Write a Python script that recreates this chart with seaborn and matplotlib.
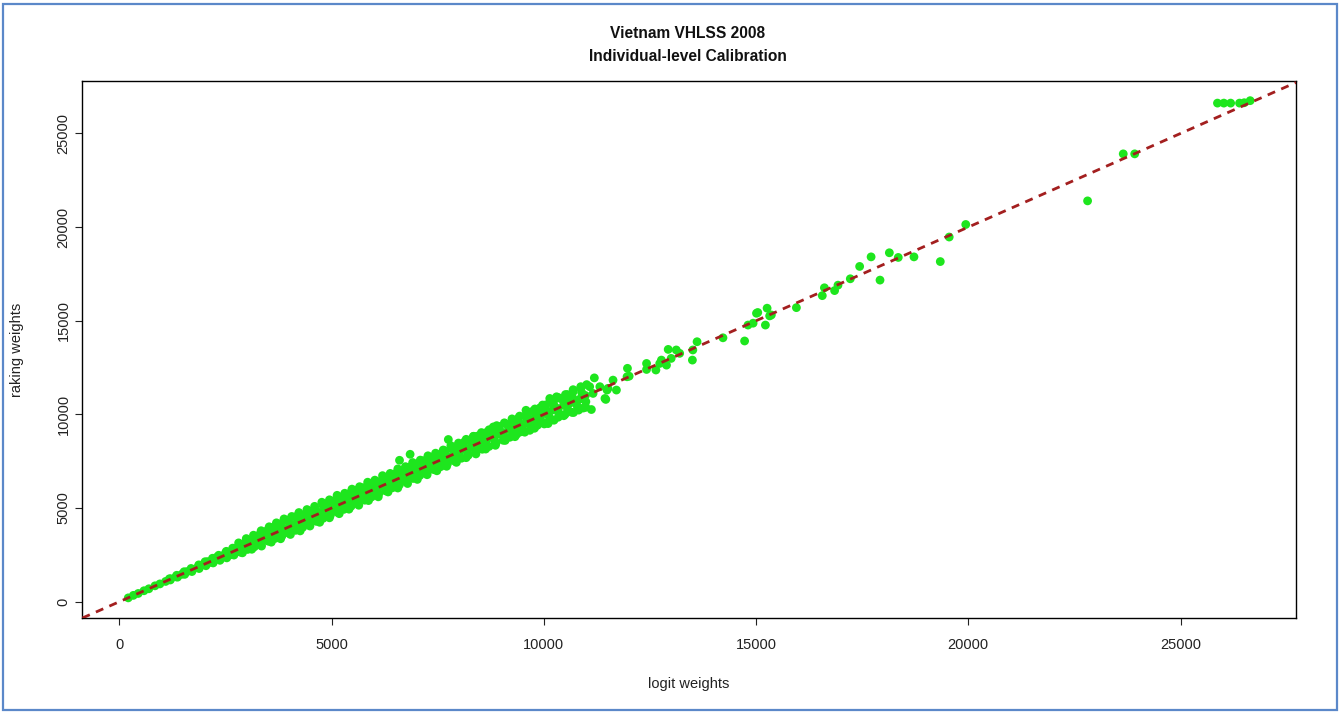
import numpy as np
import pandas as pd
import seaborn as sns
import matplotlib.pyplot as plt
from matplotlib.patches import Rectangle

# ---- data: logit weights (x) vs raking weights (y) ----
# dense core of the cloud, close to the diagonal
core_x = [210, 330, 445, 580, 695, 840, 955, 1090, 1210, 1335, 1470, 1590, 1725, 1850,
          1975, 2110, 2235, 2370, 2490, 2625, 2750, 2880, 3010, 3135, 3270, 3395, 3520,
          3650, 3780, 3910, 4040, 4165, 4300, 4420, 4555, 4680, 4810, 4940, 5070, 5195,
          5320, 5455, 5580, 5710, 5840, 5965, 6100, 6225, 6350, 6480, 6610, 6740, 6870,
          6995, 7120, 7250, 7385, 7510, 7640, 7770, 7895, 8020, 8150, 8280, 8410, 8540,
          8665, 8800, 8920, 9050, 9180, 9310, 9440, 9570, 9700, 9820, 9950, 10080, 10210,
          10340, 10470, 10600, 10720, 10850, 10980]
core_y = [205, 338, 440, 585, 690, 848, 950, 1082, 1222, 1330, 1462, 1605, 1718, 1842,
          1990, 2098, 2250, 2355, 2510, 2612, 2738, 2900, 2990, 3160, 3255, 3380, 3545,
          3630, 3800, 3885, 4070, 4150, 4320, 4395, 4580, 4660, 4835, 4915, 5090, 5170,
          5350, 5430, 5600, 5690, 5865, 5940, 6125, 6200, 6380, 6455, 6640, 6715, 6890,
          6970, 7150, 7220, 7410, 7480, 7665, 7745, 7920, 8000, 8180, 8250, 8440, 8515,
          8690, 8770, 8950, 9030, 9210, 9285, 9470, 9545, 9730, 9800, 9985, 10050, 10240,
          10310, 10500, 10570, 10760, 10820, 11010]

# upper part of the cloud
upper_x = [1180, 1350, 1525, 1690, 1870, 2020, 2195, 2340, 2520, 2670, 2850, 2990, 3170,
           3310, 3490, 3640, 3820, 3960, 4140, 4280, 4460, 4600, 4790, 4930, 5110, 5250,
           5430, 5570, 5750, 5890, 6070, 6210, 6390, 6530, 6710, 6850, 7030, 7170, 7350,
           7490, 7670, 7810, 7990, 8130, 8310, 8450, 8630, 8770, 8950, 9090, 9270, 9410,
           9590, 9730, 9910, 10050, 10230, 10370, 10550, 10690, 10870, 11010]
upper_y = [1225, 1410, 1600, 1775, 1965, 2135, 2320, 2480, 2690, 2860, 3075, 3245, 3440,
           3600, 3815, 3985, 4180, 4350, 4530, 4650, 4840, 4960, 5160, 5290, 5480, 5600,
           5790, 5940, 6090, 6260, 6420, 6560, 6740, 6880, 7050, 7200, 7370, 7530, 7710,
           7860, 8050, 8190, 8390, 8530, 8700, 8850, 9020, 9180, 9350, 9510, 9690, 9820,
           10010, 10160, 10350, 10510, 10710, 10870, 11060, 11210, 11400, 11590]

# lower part of the cloud
lower_x = [1200, 1370, 1540, 1710, 1880, 2040, 2210, 2370, 2530, 2700, 2860, 3020, 3180,
           3340, 3510, 3670, 3830, 3990, 4150, 4320, 4480, 4640, 4800, 4970, 5130, 5290,
           5460, 5620, 5780, 5940, 6110, 6270, 6430, 6600, 6760, 6920, 7080, 7250, 7410,
           7570, 7730, 7900, 8060, 8220, 8390, 8550, 8710, 8870, 9040, 9200, 9360, 9520,
           9690, 9850, 10010, 10170, 10340, 10500, 10660, 10820, 10990]
lower_y = [1160, 1310, 1460, 1610, 1770, 1920, 2070, 2210, 2340, 2490, 2640, 2790, 2930,
           3070, 3230, 3380, 3510, 3660, 3810, 3970, 4130, 4290, 4450, 4610, 4780, 4930,
           5100, 5260, 5420, 5590, 5760, 5920, 6080, 6250, 6420, 6580, 6740, 6890, 7050,
           7210, 7360, 7510, 7660, 7820, 7980, 8140, 8290, 8450, 8620, 8780, 8940, 9100,
           9270, 9420, 9560, 9700, 9850, 10000, 10110, 10230, 10380]

# in-between points filling the cloud
fill_hi_x = [2080, 2290, 2500, 2720, 2930, 3150, 3360, 3580, 3790, 4010, 4220, 4440, 4650,
             4870, 5080, 5300, 5510, 5730, 5940, 6160, 6370, 6590, 6800, 7020, 7230, 7450,
             7660, 7880, 8090, 8310, 8520, 8740, 8950, 9170, 9380, 9600, 9810, 10030, 10240,
             10460, 10670, 10890]
fill_hi_y = [2140, 2370, 2600, 2840, 3080, 3310, 3540, 3760, 3980, 4190, 4410, 4620, 4830,
             5050, 5260, 5490, 5690, 5910, 6120, 6330, 6550, 6760, 6970, 7190, 7410, 7640,
             7850, 8070, 8290, 8510, 8720, 8940, 9160, 9380, 9600, 9820, 10030, 10260, 10480,
             10710, 10930, 11180]
fill_lo_x = [2180, 2390, 2610, 2820, 3040, 3250, 3470, 3680, 3900, 4110, 4330, 4540, 4760,
             4970, 5190, 5400, 5620, 5830, 6050, 6260, 6480, 6690, 6910, 7120, 7340, 7550,
             7770, 7980, 8200, 8410, 8630, 8840, 9060, 9270, 9490, 9700, 9920, 10130, 10350,
             10560, 10780, 10990]
fill_lo_y = [2100, 2300, 2500, 2690, 2900, 3090, 3300, 3500, 3720, 3920, 4140, 4350, 4570,
             4780, 5000, 5210, 5430, 5650, 5860, 6080, 6300, 6510, 6730, 6940, 7160, 7370,
             7580, 7780, 7990, 8200, 8410, 8620, 8840, 9050, 9260, 9470, 9670, 9870, 10080,
             10270, 10480, 10680]

# outermost upper and lower edge of the cloud
edge_hi_x = [2810, 2990, 3160, 3340, 3530, 3700, 3880, 4060, 4230, 4420, 4600, 4770, 4950,
             5130, 5310, 5480, 5660, 5850, 6020, 6200, 6380, 6560, 6740, 6910, 7090, 7270,
             7450, 7630, 7810, 7990, 8170, 8350, 8530, 8710, 8890, 9070, 9250, 9430, 9610,
             9790, 9970, 10150, 10330, 10510, 10690, 10870]
edge_hi_y = [3140, 3370, 3550, 3790, 4000, 4210, 4420, 4550, 4760, 4920, 5090, 5310, 5440,
             5680, 5790, 6010, 6140, 6380, 6490, 6730, 6850, 7090, 7210, 7430, 7560, 7790,
             7930, 8100, 8330, 8470, 8670, 8830, 9030, 9180, 9400, 9550, 9760, 9910, 10120,
             10290, 10500, 10660, 10900, 11060, 11320, 11480]
edge_lo_x = [2900, 3120, 3350, 3580, 3800, 4030, 4260, 4490, 4720, 4950, 5180, 5410, 5640,
             5870, 6100, 6330, 6560, 6790, 7020, 7250, 7480, 7710, 7940, 8170, 8400, 8630,
             8860, 9090, 9320, 9550, 9780, 10010, 10240, 10470, 10700, 10930]
edge_lo_y = [2610, 2800, 2970, 3180, 3360, 3590, 3780, 4040, 4240, 4480, 4700, 4940, 5150,
             5400, 5600, 5860, 6070, 6310, 6530, 6780, 6990, 7230, 7440, 7690, 7890, 8150,
             8350, 8610, 8810, 9050, 9260, 9490, 9690, 9930, 10100, 10340]

# scattered individual observations
sparse_x = [26640, 26500, 26390, 26180, 26020, 25870, 23920, 23650, 22810,
            19940, 19550, 19340, 18720, 18350, 18140, 17710, 17920, 17440, 17220, 16930,
            16850, 16610, 16560, 15950, 15260, 15320, 15010, 15220, 14930, 15040, 15360,
            14810, 14730, 14220, 13610, 13510, 13500, 13200, 13120, 12930, 13000, 12770,
            12730, 12890, 12640, 12420, 12420, 11970, 12010, 11960, 11630, 11510, 11710,
            11320, 11080, 10930, 11160, 11440, 11190, 11120, 11460, 11490, 10570, 10300,
            10140, 10100, 9580, 9670, 9440, 7750, 6850, 6600, 8340, 8810]
sparse_y = [26750, 26640, 26620, 26620, 26620, 26620, 23910, 23910, 21400,
            20140, 19470, 18160, 18410, 18380, 18630, 18410, 17170, 17900, 17240, 16900,
            16610, 16760, 16340, 15700, 15670, 15260, 15400, 14770, 14870, 15440, 15310,
            14770, 13920, 14090, 13880, 13440, 12900, 13260, 13440, 13470, 12990, 12900,
            12720, 12630, 12370, 12720, 12400, 12460, 12040, 12010, 11830, 11390, 11300,
            11480, 11480, 11030, 11120, 10850, 11950, 10260, 10800, 11300, 10760, 10940,
            10850, 9510, 10220, 9150, 9060, 8660, 7870, 7550, 8830, 9330]

x_ticks = [0, 5000, 10000, 15000, 20000, 25000]
y_ticks = [0, 5000, 10000, 15000, 20000, 25000]
tick_labels = ["0", "5000", "10000", "15000", "20000", "25000"]

title_text = "Vietnam VHLSS 2008\nIndividual-level Calibration"
x_label = "logit weights"
y_label = "raking weights"

POINT_COLOR = "#1ee61e"
LINE_COLOR = "#a31f1f"
FRAME_COLOR = "#5b88c9"

df = pd.DataFrame({
    "logit": np.concatenate([core_x, upper_x, lower_x, fill_hi_x, fill_lo_x,
                             edge_hi_x, edge_lo_x, sparse_x]),
    "raking": np.concatenate([core_y, upper_y, lower_y, fill_hi_y, fill_lo_y,
                              edge_hi_y, edge_lo_y, sparse_y]),
})

sns.set_style("white")
plt.rcParams["font.family"] = ["Liberation Sans", "DejaVu Sans"]

W, H = 1340, 713
fig = plt.figure(figsize=(W / 100, H / 100), dpi=100)
ax = fig.add_axes([82 / W, 1 - 618 / H, (1296 - 82) / W, (618 - 81) / H])

sns.scatterplot(data=df, x="logit", y="raking", color=POINT_COLOR, s=40,
                linewidth=0, edgecolor="none", ax=ax, zorder=2, legend=False)

# 45-degree reference line
ax.axline((0, 0), slope=1, color=LINE_COLOR, lw=2.0,
          linestyle=(0, (2.9, 2.4)), zorder=3)

ax.set_xlim(-880, 27720)
ax.set_ylim(-870, 27800)
ax.set_xticks(x_ticks)
ax.set_xticklabels(tick_labels)
ax.set_yticks(y_ticks)
ax.set_yticklabels(tick_labels, rotation=90, va="center")
ax.set_xlabel("")
ax.set_ylabel("")

ax.tick_params(axis="both", direction="out", length=5.2, width=0.8,
               color="#222222", labelcolor="#222222", labelsize=10.5)
ax.tick_params(axis="x", pad=9)
ax.tick_params(axis="y", pad=3)
ax.tick_params(left=True, bottom=True)
for sp in ax.spines.values():
    sp.set_visible(True)
    sp.set_color("black")
    sp.set_linewidth(1.0)

fig.text(688 / W, 1 - 45 / H, title_text, ha="center", va="center",
         fontsize=11.2, fontweight="bold", linespacing=1.68, color="#111111")
fig.text(689 / W, 1 - 684 / H, x_label, ha="center", va="center",
         fontsize=10.5, color="#222222")
fig.text(17 / W, 1 - 350 / H, y_label, ha="center", va="center",
         rotation=90, fontsize=10.5, color="#222222")

# outer frame
fig.add_artist(Rectangle((3 / W, 3 / H), (1337 - 3) / W, (709 - 3) / H,
                         transform=fig.transFigure, fill=False,
                         edgecolor=FRAME_COLOR, lw=1.6))

fig.savefig("out.png", dpi=100)
